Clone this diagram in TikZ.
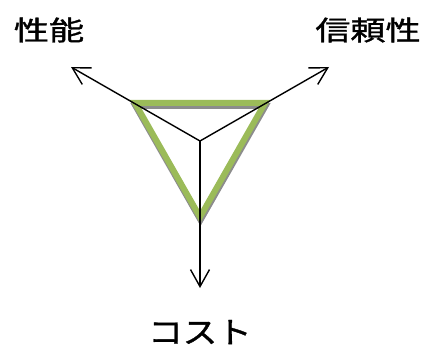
\documentclass[tikz,border=0pt]{standalone}
\usepackage{fontspec}
\newfontfamily\jp[FakeBold=1.2]{Noto Sans CJK JP}
\usetikzlibrary{arrows.meta}
\definecolor{tgreen}{HTML}{9BBB59}
\tikzset{
  axis/.style={line width=1.4pt, -{Straight Barb[length=17pt,width=19pt,line width=1.4pt]}},
  tri/.style={line width=6pt, draw=tgreen, line join=miter},
  trishadow/.style={line width=6pt, draw=black!45, line join=miter},
  lbl/.style={inner sep=0pt, font=\jp}
}
\begin{document}
\begin{tikzpicture}[x=1pt,y=-1pt]
\useasboundingbox (0,0) rectangle (427,347);
\coordinate (o) at (200,141);
\coordinate (a) at (135,103);
\coordinate (b) at (265,103);
\coordinate (c) at (200,217);
\coordinate (ta) at (71,67);
\coordinate (tb) at (329,67);
\coordinate (tc) at (200,288);
\draw[trishadow] ([shift={(0.5,3)}]a) -- ([shift={(0.5,3)}]b) -- ([shift={(0.5,3)}]c) -- cycle;
\draw[tri] (a) -- (b) -- (c) -- cycle;
\draw[axis] (o) -- (ta);
\draw[axis] (o) -- (tb);
\draw[axis] (o) -- (tc);
\node[lbl] (perf) at (49,30) {\fontsize{27pt}{27pt}\selectfont\scalebox{1.3}[1]{性能}};
\node[lbl] (rel) at (368,30) {\fontsize{27pt}{27pt}\selectfont\scalebox{1.3}[1]{信頼性}};
\node[lbl] (cost) at (200,332) {\fontsize{30pt}{30pt}\selectfont\scalebox{1.15}[1]{コスト}};
\end{tikzpicture}
\end{document}
